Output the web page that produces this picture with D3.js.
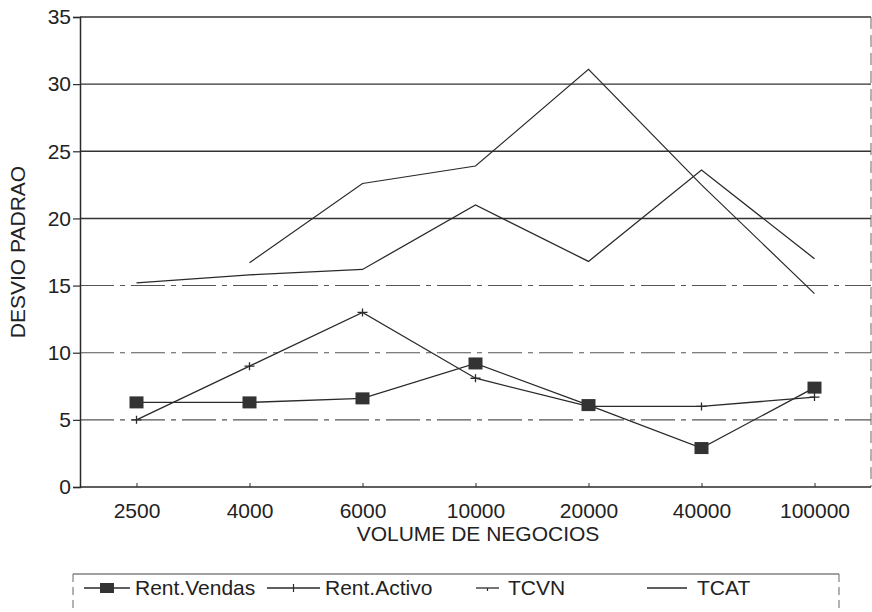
<!DOCTYPE html>
<html><head><meta charset="utf-8">
<script src="https://cdn.jsdelivr.net/npm/d3@7"></script>
<style>body{margin:0;background:#fff}svg{display:block}text{font-family:"Liberation Sans",Arial,sans-serif;fill:#222}</style>
</head><body>
<svg id="c" width="872" height="612"></svg>
<script>
const categories = ["2500","4000","6000","10000","20000","40000","100000"];
const rentVendas = [6.3, 6.3, 6.6, 9.2, 6.1, 2.9, 7.4];
const rentActivo = [5.0, 9.0, 13.0, 8.1, 6.0, 6.0, 6.7];
const tcvn = [null, 16.7, 22.6, 23.9, 31.1, 22.5, 14.4];
const tcat = [15.2, 15.8, 16.2, 21.0, 16.8, 23.6, 17.0];
const yTicks = [0, 5, 10, 15, 20, 25, 30, 35];
const seriesNames = ["Rent.Vendas", "Rent.Activo", "TCVN", "TCAT"];

const svg = d3.select("#c");
const L = 80, R = 871, T = 17, B = 487;
const x = d3.scalePoint().domain(categories).range([L, R]).padding(0.5);
const y = d3.scaleLinear().domain([0, 35]).range([B, T]);
const ink = "#2a2a2a";
const FS = 21;

// gridlines
svg.append("g").selectAll("line").data(yTicks.filter(d => d > 0)).join("line")
  .attr("x1", L).attr("x2", R).attr("y1", d => y(d)).attr("y2", d => y(d))
  .attr("stroke", d => d >= 20 ? "#333" : "#555")
  .attr("stroke-width", d => d >= 20 ? 1.4 : 1.1)
  .attr("stroke-dasharray", d => d >= 20 ? null : "34,6,5,6");

// right border
svg.append("line").attr("x1", R).attr("x2", R).attr("y1", T).attr("y2", B)
  .attr("stroke", "#666").attr("stroke-width", 1).attr("stroke-dasharray", "12,6");

// y axis
const yAxis = d3.axisLeft(y).tickValues(yTicks).tickSize(7).tickPadding(2);
const gy = svg.append("g").attr("transform", `translate(${L},0)`).call(yAxis);
gy.select(".domain").attr("stroke", ink).attr("stroke-width", 1.5);
gy.selectAll(".tick line").attr("stroke", ink).attr("stroke-width", 1.2);
gy.selectAll(".tick text").attr("font-size", FS).attr("fill", "#222")
  .attr("font-family", "Liberation Sans, Arial, sans-serif");

// x axis
const xAxis = d3.axisBottom(x).tickSize(-4).tickPadding(16);
const gx = svg.append("g").attr("transform", `translate(0,${B})`).call(xAxis);
gx.select(".domain").attr("stroke", ink).attr("stroke-width", 1.5).attr("d", `M${L},0H${R}`);
gx.selectAll(".tick line").attr("stroke", ink).attr("stroke-width", 1);
gx.selectAll(".tick text").attr("font-size", FS).attr("fill", "#222")
  .attr("font-family", "Liberation Sans, Arial, sans-serif");

// titles
svg.append("text").attr("x", 478).attr("y", 541).attr("text-anchor", "middle")
  .attr("font-size", FS).text("VOLUME DE NEGOCIOS");
svg.append("text").attr("transform", "translate(25,252) rotate(-90)").attr("text-anchor", "middle")
  .attr("font-size", FS).text("DESVIO PADRAO");

// lines
const line = d3.line().defined(d => d.v != null).x(d => x(d.c)).y(d => y(d.v));
function draw(vals, w) {
  const data = categories.map((c, i) => ({c, v: vals[i]}));
  svg.append("path").datum(data).attr("d", line).attr("fill", "none")
    .attr("stroke", ink).attr("stroke-width", w).attr("stroke-linejoin", "miter");
  return data.filter(d => d.v != null);
}
draw(tcat, 1.3);
draw(tcvn, 1.2);
const ra = draw(rentActivo, 1.3);
const rv = draw(rentVendas, 1.3);

svg.append("g").selectAll("path").data(ra).join("path")
  .attr("d", d => `M${x(d.c)-5},${y(d.v)}h10M${x(d.c)},${y(d.v)-4}v8`)
  .attr("stroke", ink).attr("stroke-width", 1.3);
svg.append("g").selectAll("rect").data(rv).join("rect")
  .attr("x", d => x(d.c) - 7).attr("y", d => y(d.v) - 6).attr("width", 14).attr("height", 12)
  .attr("fill", "#333");

// legend
const lg = svg.append("g");
lg.append("path").attr("d", "M73,574H839").attr("stroke", "#444").attr("stroke-width", 1.2).attr("fill", "none");
lg.append("path").attr("d", "M73,574V612M839,574V612").attr("stroke", "#666").attr("stroke-width", 1).attr("stroke-dasharray", "8,5");
const ly = 588;
const legendItems = [
  {name: seriesNames[0], x0: 84, x1: 130, tx: 135, mark: "sq"},
  {name: seriesNames[1], x0: 267, x1: 320, tx: 325, mark: "plus"},
  {name: seriesNames[2], x0: 476, x1: 499, tx: 508, mark: "tick"},
  {name: seriesNames[3], x0: 647, x1: 687, tx: 697, mark: "none"}
];
legendItems.forEach(it => {
  lg.append("line").attr("x1", it.x0).attr("x2", it.x1).attr("y1", ly).attr("y2", ly)
    .attr("stroke", ink).attr("stroke-width", 1.3);
  const cx = (it.x0 + it.x1) / 2;
  if (it.mark === "sq") lg.append("rect").attr("x", cx - 7).attr("y", ly - 5).attr("width", 14).attr("height", 10).attr("fill", "#333");
  if (it.mark === "plus") lg.append("path").attr("d", `M${cx},${ly-4}v8`).attr("stroke", ink).attr("stroke-width", 1.2);
  if (it.mark === "tick") lg.append("path").attr("d", `M${cx},${ly}v3`).attr("stroke", ink).attr("stroke-width", 1.2);
  lg.append("text").attr("x", it.tx).attr("y", ly + 7).attr("font-size", FS).text(it.name);
});
</script>
</body></html>
